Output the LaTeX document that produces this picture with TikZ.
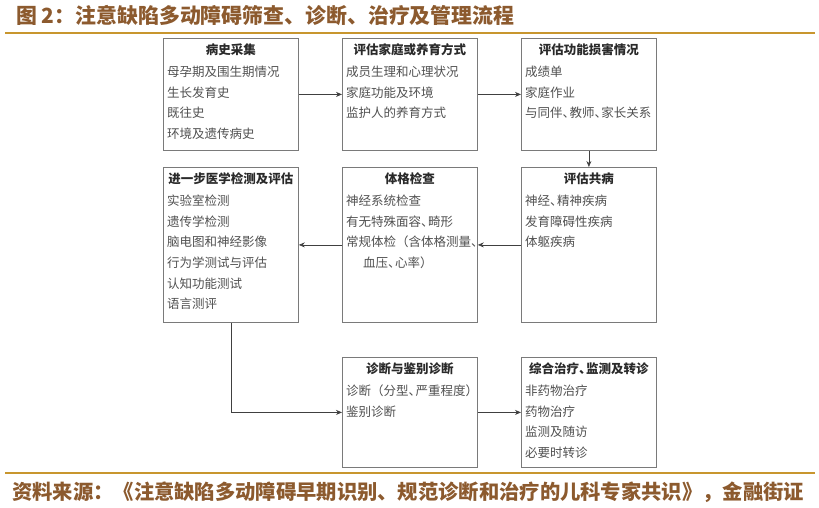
\documentclass[tikz,border=0pt]{standalone}
\usepackage{fontspec}
\newfontfamily\cjk{Noto Sans CJK SC}
\usetikzlibrary{calc,arrows.meta}
\definecolor{titlec}{HTML}{8C5A2E}
\definecolor{rulec}{HTML}{C8962E}
\definecolor{boxc}{HTML}{7A7A7A}
\definecolor{itemc}{HTML}{505050}
\definecolor{hdc}{HTML}{2A2A2A}
\definecolor{arrc}{HTML}{404040}
\newcommand\dn{\makebox[0.55em][l]{、}}
\tikzset{
 box/.style={draw=boxc, line width=0.8pt, rectangle, inner sep=0pt, minimum width=135pt, anchor=north west},
 hd/.style={font=\cjk\bfseries\fontsize{12.5}{14}\selectfont, text=hdc, inner sep=0pt},
 item/.style={font=\cjk\fontsize{12.5}{14}\selectfont, text=itemc, inner sep=0pt, anchor=west},
 arr/.style={draw=arrc, line width=0.7pt, -{Stealth[length=6pt,width=5pt]}},
 captext/.style={font=\cjk\bfseries\fontsize{20.9}{22}\selectfont, text=titlec, inner sep=0pt, anchor=west},
 rulel/.style={draw=rulec, line width=1.2pt}
}
\newcommand\boxitems[2]{\foreach \t [count=\i from 0] in {#2} {\node[item] (#1-\i) at ($(#1.north west)+(4,{34+20.6*\i})$) {\t};}}
\begin{document}
\begin{tikzpicture}[x=1pt,y=-1pt]
\useasboundingbox (0,0) rectangle (819,507);
% title and rules
\node[captext] (title) at (16,16) {图 2：注意缺陷多动障碍筛查、诊断、治疗及管理流程};
\coordinate (t1) at (5,33); \coordinate (t2) at (815,33);
\draw[rulel] (t1) -- (t2);
\coordinate (f1) at (5,473); \coordinate (f2) at (815,473);
\draw[rulel] (f1) -- (f2);
\node[captext, font=\cjk\bfseries\fontsize{20.3}{22}\selectfont] (source) at (12,492) {资料来源：《注意缺陷多动障碍早期识别、规范诊断和治疗的儿科专家共识》，金融街证};
% boxes
\node[box, minimum height=112pt] (A) at (163,38) {};
\node[box, minimum height=112pt] (B) at (342,38) {};
\node[box, minimum height=112pt] (C) at (521,38) {};
\node[box, minimum height=155pt] (D) at (163,167) {};
\node[box, minimum height=155pt] (E) at (342,167) {};
\node[box, minimum height=155pt] (F) at (521,167) {};
\node[box, minimum height=110pt] (G) at (342,357) {};
\node[box, minimum height=110pt] (H) at (521,357) {};
% headers
\node[hd] (Ah) at ($(A.north)+(0,12)$) {病史采集};
\node[hd] (Bh) at ($(B.north)+(0,12)$) {评估家庭或养育方式};
\node[hd] (Ch) at ($(C.north)+(0,12)$) {评估功能损害情况};
\node[hd] (Dh) at ($(D.north)+(0,12)$) {进一步医学检测及评估};
\node[hd] (Eh) at ($(E.north)+(0,12)$) {体格检查};
\node[hd] (Fh) at ($(F.north)+(0,12)$) {评估共病};
\node[hd] (Gh) at ($(G.north)+(0,12)$) {诊断与鉴别诊断};
\node[hd] (Hh) at ($(H.north)+(0,12)$) {综合治疗\dn 监测及转诊};
% items
\boxitems{A}{母孕期及围生期情况,生长发育史,既往史,环境及遗传病史}
\boxitems{B}{成员生理和心理状况,家庭功能及环境,监护人的养育方式}
\boxitems{C}{成绩单,家庭作业,与同伴\dn 教师\dn 家长关系}
\boxitems{D}{实验室检测,遗传学检测,脑电图和神经影像,行为学测试与评估,认知功能测试,语言测评}
\boxitems{E}{神经系统检查,有无特殊面容\dn 畸形,常规体检（含体格测量、}
\node[item] (E-3) at ($(E.north west)+(21,{34+20.6*3})$) {血压\dn 心率）};
\boxitems{F}{神经\dn 精神疾病,发育障碍性疾病,体躯疾病}
\boxitems{G}{诊断（分型\dn 严重程度）,鉴别诊断}
\boxitems{H}{非药物治疗,药物治疗,监测及随访,必要时转诊}
% connectors
\draw[arr] (A) -- (B);
\draw[arr] (B) -- (C);
\draw[arr] (C) -- (F);
\draw[arr] (F) -- (E);
\draw[arr] (E) -- (D);
\draw[arr] (D.south) |- (G.west);
\draw[arr] (G) -- (H);
\end{tikzpicture}
\end{document}
